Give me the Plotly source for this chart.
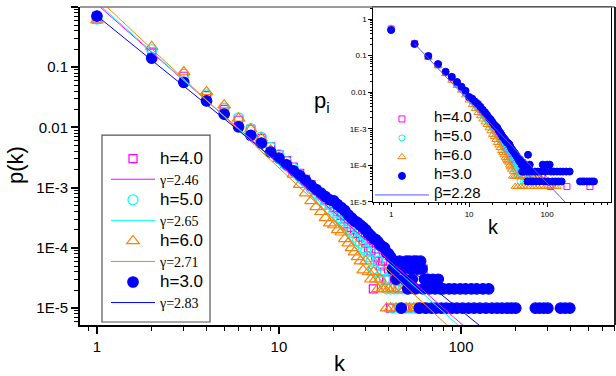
import plotly.graph_objects as go

# ---------------- main plot data: degree k and log10 p(k) ----------------
h3_k = list(range(1, 41)) + [41, 42, 43, 44, 45, 46, 47, 48, 49, 50, 51, 52, 53, 54, 55, 56, 57, 58, 59, 60,
                              61, 62, 63, 64, 66, 67, 69, 70, 72, 73, 75, 77, 78, 80, 83, 86, 89, 92, 95, 99,
                              102, 106, 110, 114, 118, 122, 127, 132, 137, 142, 148, 158, 168, 179, 190, 200,
                              256, 270, 285, 300, 352, 373, 396]
h3_logp = [-0.15, -0.85, -1.25, -1.56, -1.78, -1.99, -2.13, -2.26, -2.41, -2.51, -2.62, -2.72, -2.80, -2.88,
           -2.96, -3.03, -3.09, -3.15, -3.20, -3.22, -3.28, -3.33, -3.38, -3.45, -3.50, -3.55, -3.58, -3.62,
           -3.66, -3.70, -3.76, -3.80, -3.84, -3.86, -3.90, -3.95, -3.98, -4.00, -4.08, -4.10,
           -4.15, -4.35, -4.22, -4.52, -4.35, -4.22, -5.00, -4.35, -4.52, -4.22, -4.68, -4.22, -4.35, -4.52,
           -4.22, -4.68, -4.22, -4.35, -5.00, -4.22, -4.35, -4.68, -4.52, -5.00, -4.52, -4.68, -5.00, -4.52,
           -4.68, -5.00, -4.52, -4.68, -5.00, -4.68, -5.00, -4.68, -5.00, -4.68, -5.00, -4.68, -5.00, -4.68,
           -5.00, -4.68, -5.00, -4.68, -5.00, -4.68, -5.00, -4.68, -5.00, -5.00, -5.00, -5.00, -5.00, -5.00,
           -5.00, -5.00, -5.00, -5.00, -5.00, -5.00, -5.00]

h4_k = list(range(1, 42)) + [43, 46, 49, 52, 55, 57, 60, 62, 64, 68]
h4_logp = [-0.20, -0.75, -1.15, -1.47, -1.70, -1.88, -2.03, -2.18, -2.32, -2.45, -2.55, -2.66, -2.76, -2.86,
           -2.95, -3.04, -3.12, -3.20, -3.27, -3.33, -3.40, -3.46, -3.52, -3.60, -3.66, -3.70, -3.76, -3.82,
           -3.88, -3.92, -4.00, -4.05, -4.68, -4.15, -4.22, -4.30, -4.22, -4.40, -4.52, -4.35, -5.00,
           -4.52, -4.68, -5.00, -4.68, -5.00, -4.68, -4.35, -4.35, -5.00, -5.00]

h5_k = list(range(1, 44)) + [45, 46, 48, 50, 51, 53, 56, 59, 62, 66]
h5_logp = [-0.20, -0.71, -1.12, -1.46, -1.68, -1.84, -2.02, -2.16, -2.33, -2.45, -2.57, -2.68, -2.80, -2.90,
           -3.02, -3.10, -3.20, -3.28, -3.36, -3.42, -3.50, -3.55, -3.62, -3.70, -3.74, -3.82, -3.88, -3.92,
           -4.00, -4.05, -4.15, -4.22, -4.35, -4.40, -4.22, -4.52, -4.40, -4.52, -4.68, -4.52, -4.68, -5.00,
           -4.68, -4.68, -5.00, -4.68, -5.00, -4.68, -5.00, -5.00, -5.00, -5.00, -5.00]

h6_k = list(range(1, 43)) + [44, 45, 47, 49, 50, 52, 53, 55, 57, 60, 63]
h6_logp = [-0.22, -0.66, -1.08, -1.41, -1.63, -1.85, -2.03, -2.18, -2.38, -2.52, -2.62, -2.78, -2.95, -3.09,
           -3.22, -3.32, -3.40, -3.50, -3.59, -3.62, -3.70, -3.74, -3.85, -3.92, -4.00, -4.07, -4.15, -4.22,
           -4.37, -4.22, -4.40, -4.52, -4.40, -4.52, -4.68, -4.52, -4.68, -4.68, -5.00, -4.68, -5.00, -4.68,
           -5.00, -4.68, -5.00, -4.68, -5.00, -5.00, -4.68, -5.00, -5.00, -5.00, -5.00]

# fitted lines (end points)
fit_names = ["γ=2.46", "γ=2.65", "γ=2.71", "γ=2.83"]
fit_h4_k, fit_h4_p = [1.04, 104.0], [1.0, 5e-6]
fit_h5_k, fit_h5_p = [1.065, 98.0], [1.0, 5e-6]
fit_h6_k, fit_h6_p = [1.135, 85.0], [1.0, 5e-6]
fit_h3_k, fit_h3_p = [0.94, 128.0], [0.83, 5e-6]

# ---------------- inset data: k and log10 p_i ----------------
in_h3_k = list(range(1, 48)) + [48, 49, 50, 52, 54, 56, 57, 58, 60, 62, 64, 67, 70, 73, 76, 80, 84, 88, 92, 96,
                                100, 104, 108, 112, 117, 122, 128, 134, 140, 147, 154, 160, 176, 195,
                                265, 285, 300, 325, 350, 375, 400]
in_h3_logp = [-0.30, -0.68, -1.01, -1.23, -1.44, -1.58, -1.72, -1.85, -1.96, -2.13, -2.18, -2.26, -2.32,
              -2.40, -2.48, -2.55, -2.62, -2.70, -2.75, -2.82, -2.89, -2.93, -2.97, -3.05, -3.10, -3.16,
              -3.22, -3.26, -3.30, -3.35, -3.38, -3.40, -3.43, -3.50, -3.55, -3.58, -3.62, -3.65, -3.68,
              -3.72, -3.76, -3.80, -3.84, -3.88, -3.84, -3.92, -3.98,
              -4.17, -3.92, -4.17, -3.98, -4.17, -4.44, -3.71, -4.17, -3.98, -4.44, -4.17, -4.44, -4.17,
              -4.44, -4.17, -4.44, -4.17, -3.98, -4.44, -4.17, -3.98, -4.44, -3.98, -4.17, -4.44, -4.17,
              -4.44, -4.17, -4.44, -4.17, -4.44, -4.17, -4.17, -4.17,
              -4.44, -4.44, -4.44, -4.44, -4.44, -4.44, -4.44]

in_h4_k = list(range(1, 41)) + [42, 44, 46, 48, 50, 53, 56, 60, 65, 70, 78, 86, 95, 110, 180, 355]
in_h4_logp = [-0.27, -0.67, -1.02, -1.25, -1.46, -1.60, -1.75, -1.88, -2.00, -2.14, -2.22, -2.31, -2.40,
              -2.48, -2.56, -2.63, -2.70, -2.77, -2.84, -2.90, -2.96, -3.02, -3.08, -3.14, -3.20, -3.25,
              -3.30, -3.36, -3.42, -3.47, -3.52, -3.57, -3.62, -3.66, -3.70, -3.74, -3.80, -3.85, -3.90,
              -3.95, -4.00, -4.05, -4.17, -4.11, -4.30, -4.17, -4.30, -4.44, -4.30, -4.44, -4.30, -4.33,
              -4.44, -4.58, -4.58, -4.58]

in_h5_k = list(range(1, 44)) + [45, 47, 50, 53, 56, 60, 64, 68, 72, 78, 84, 90]
in_h5_logp = [-0.27, -0.67, -1.03, -1.26, -1.47, -1.63, -1.78, -1.91, -2.03, -2.17, -2.26, -2.36, -2.45,
              -2.53, -2.62, -2.70, -2.77, -2.85, -2.92, -3.00, -3.06, -3.12, -3.18, -3.25, -3.32, -3.38,
              -3.44, -3.50, -3.56, -3.62, -3.66, -3.72, -3.76, -3.80, -3.88, -3.92, -3.98, -4.05, -4.11,
              -4.17, -4.00, -4.30, -4.17, -4.44, -4.30, -4.44, -4.30, -4.44, -4.30, -4.44, -4.30, -4.44,
              -4.44, -4.44, -4.44]

in_h6_k = list(range(1, 41)) + [42, 44, 46, 48, 50, 52, 55, 58, 61, 64, 68, 72, 76, 80, 85, 90, 95, 102, 110,
                                118, 127, 136]
in_h6_logp = [-0.25, -0.66, -1.05, -1.28, -1.50, -1.68, -1.82, -1.95, -2.08, -2.22, -2.34, -2.45, -2.56,
              -2.65, -2.74, -2.82, -2.89, -2.98, -3.06, -3.16, -3.22, -3.30, -3.38, -3.45, -3.52, -3.60,
              -3.66, -3.72, -3.79, -3.84, -3.88, -3.92, -4.00, -4.05, -4.11, -4.30, -4.17, -4.30, -4.58,
              -4.30, -4.58, -4.30, -4.58, -4.30, -4.58, -4.30, -4.58, -4.30, -4.58, -4.30, -4.58, -4.30,
              -4.58, -4.30, -4.58, -4.30, -4.58, -4.58, -4.58, -4.58, -4.58, -4.58]

in_fit_name = "β=2.28"
in_fit_k, in_fit_p = [2.0, 170.0], [0.21, 1e-5]

# ---------------- tick labels ----------------
y_tickvals = [1, 0.1, 0.01, 1e-3, 1e-4, 1e-5]
y_ticktext = ["1", "0.1", "0.01", "1E-3", "1E-4", "1E-5"]
x_tickvals = [1, 10, 100]
x_ticktext = ["1", "10", "100"]

FONT = "Liberation Sans, Arial, sans-serif"
MAGENTA, CYAN, ORANGE, BLUE = "#FF00FF", "#00FFFF", "#FF8000", "#0000FF"


def to_p(logs):
    return [10 ** v for v in logs]


def minor_vals(lo, hi):
    return [m * 10 ** e for e in range(lo, hi) for m in range(2, 10)]


fig = go.Figure()

# main markers
main_marker_specs = [
    ("<span style='font-size:17px'>h=4.0</span>", h4_k, h4_logp, "square-open", 8, MAGENTA, 1),
    ("<span style='font-size:17px'>h=5.0</span>", h5_k, h5_logp, "circle-open", 10, CYAN, 3),
    ("<span style='font-size:17px'>h=6.0</span>", h6_k, h6_logp, "triangle-up-open", 11, ORANGE, 5),
    ("<span style='font-size:17px'>h=3.0</span>", h3_k, h3_logp, "circle", 10.5, BLUE, 7),
]
for name, kk, lp, sym, size, col, rank in main_marker_specs:
    fig.add_trace(go.Scatter(
        x=kk, y=to_p(lp), mode="markers", name=name, legend="legend", legendrank=rank,
        marker=dict(symbol=sym, size=size, color=col, line=dict(color=col, width=1.2)),
        xaxis="x", yaxis="y"))

main_fit_specs = [
    (fit_names[0], fit_h4_k, fit_h4_p, MAGENTA, 2),
    (fit_names[1], fit_h5_k, fit_h5_p, CYAN, 4),
    (fit_names[2], fit_h6_k, fit_h6_p, ORANGE, 6),
    (fit_names[3], fit_h3_k, fit_h3_p, BLUE, 8),
]
for name, kk, pp, col, rank in main_fit_specs:
    fig.add_trace(go.Scatter(
        x=kk, y=pp, mode="lines",
        name=f"<span style='font-family:Liberation Serif;font-size:14px'>{name}</span>",
        legend="legend", legendrank=rank, line=dict(color=col, width=1),
        xaxis="x", yaxis="y"))

# inset markers
inset_specs = [
    ("h=4.0", in_h4_k, in_h4_logp, "square-open", 6, MAGENTA, 1),
    ("h=5.0", in_h5_k, in_h5_logp, "circle-open", 6, CYAN, 2),
    ("h=6.0", in_h6_k, in_h6_logp, "triangle-up-open", 7, ORANGE, 3),
    ("h=3.0", in_h3_k, in_h3_logp, "circle", 7, BLUE, 4),
]
for name, kk, lp, sym, size, col, rank in inset_specs:
    fig.add_trace(go.Scatter(
        x=kk, y=to_p(lp), mode="markers",
        name=f"<span style='font-size:15px'>{name}</span>", legend="legend2", legendrank=rank,
        marker=dict(symbol=sym, size=size, color=col, line=dict(color=col, width=1)),
        xaxis="x2", yaxis="y2"))
fig.add_trace(go.Scatter(
    x=in_fit_k, y=in_fit_p, mode="lines",
    name=f"<span style='font-size:15px'>{in_fit_name}</span>", legend="legend2", legendrank=5,
    line=dict(color="#5555FF", width=1), xaxis="x2", yaxis="y2"))

main_axis_common = dict(
    type="log", showgrid=False, zeroline=False, showline=True, linecolor="black", linewidth=2,
    ticks="outside", ticklen=7, tickwidth=1.5, tickcolor="black",
    tickfont=dict(family=FONT, size=15, color="black"))

inset_axis_common = dict(
    type="log", showgrid=False, zeroline=False, showline=True, linecolor="black", linewidth=1,
    mirror=True, ticks="outside", ticklen=4, tickwidth=1, tickcolor="black",
    tickfont=dict(family=FONT, size=8, color="black"))

fig.update_layout(
    width=616, height=376,
    margin=dict(l=80, r=1, t=7, b=51),
    paper_bgcolor="white", plot_bgcolor="white",
    showlegend=True, hovermode=False,
    xaxis=dict(main_axis_common, range=[-0.093, 2.846], domain=[0, 1],
               tickmode="array", tickvals=x_tickvals, ticktext=x_ticktext,
               minor=dict(tickmode="array", tickvals=minor_vals(-1, 3), ticks="outside",
                          ticklen=4, tickwidth=1, tickcolor="black", showgrid=False)),
    yaxis=dict(main_axis_common, range=[-5.28, 0], domain=[0, 1],
               tickmode="array", tickvals=y_tickvals, ticktext=y_ticktext,
               minor=dict(tickmode="array", tickvals=minor_vals(-6, 0), ticks="outside",
                          ticklen=4, tickwidth=1, tickcolor="black", showgrid=False)),
    xaxis2=dict(inset_axis_common, range=[-0.23, 2.82], domain=[0.548, 0.9925], anchor="y2",
                tickmode="array", tickvals=x_tickvals, ticktext=x_ticktext,
                minor=dict(tickmode="array", tickvals=minor_vals(-1, 3), ticks="outside",
                           ticklen=2, tickwidth=1, tickcolor="black", showgrid=False)),
    yaxis2=dict(inset_axis_common, range=[-5, 0.33], domain=[0.387, 1.0], anchor="x2",
                tickmode="array", tickvals=y_tickvals, ticktext=y_ticktext,
                minor=dict(tickmode="array", tickvals=minor_vals(-6, 1), ticks="outside",
                           ticklen=2, tickwidth=1, tickcolor="black", showgrid=False)),
    legend=dict(x=0.0486, y=0.571, xanchor="left", yanchor="top", bgcolor="rgba(0,0,0,0)",
                borderwidth=0, font=dict(family=FONT, size=13.5, color="black"),
                itemwidth=44, tracegroupgap=0, traceorder="normal"),
    legend2=dict(x=0.542, y=0.6936, xanchor="left", yanchor="top", bgcolor="rgba(0,0,0,0)",
                 borderwidth=0, font=dict(family=FONT, size=8.5, color="black"),
                 itemwidth=54, tracegroupgap=0, traceorder="normal"),
    shapes=[
        dict(type="rect", xref="paper", yref="paper", x0=0.0411, x1=0.243, y0=0.0094, y1=0.597,
             line=dict(color="#555555", width=1.2), fillcolor="rgba(0,0,0,0)", layer="above"),
        dict(type="line", xref="paper", yref="paper", x0=0, x1=1, y0=1, y1=1,
             line=dict(color="#777777", width=1.5), layer="above"),
        dict(type="line", xref="paper", yref="paper", x0=1, x1=1, y0=0, y1=1,
             line=dict(color="#222222", width=2), layer="above"),
    ],
    annotations=[
        dict(text="p(k)", x=-0.1215, y=0.503, xref="paper", yref="paper", showarrow=False,
             xanchor="center", yanchor="middle", textangle=-90,
             font=dict(family=FONT, size=22, color="black")),
        dict(text="k", x=0.486, y=-0.1195, xref="paper", yref="paper", showarrow=False,
             xanchor="center", yanchor="middle", font=dict(family=FONT, size=22, color="black")),
        dict(text="k", x=0.772, y=0.308, xref="paper", yref="paper", showarrow=False,
             xanchor="center", yanchor="middle", font=dict(family=FONT, size=20, color="black")),
        dict(text="p<sub>i</sub>", x=0.452, y=0.70, xref="paper", yref="paper", showarrow=False,
             xanchor="center", yanchor="middle", font=dict(family=FONT, size=22, color="black")),
    ],
)

fig.write_html("out.html", config={"displayModeBar": False},
               post_script="document.body.style.margin='0px';")
